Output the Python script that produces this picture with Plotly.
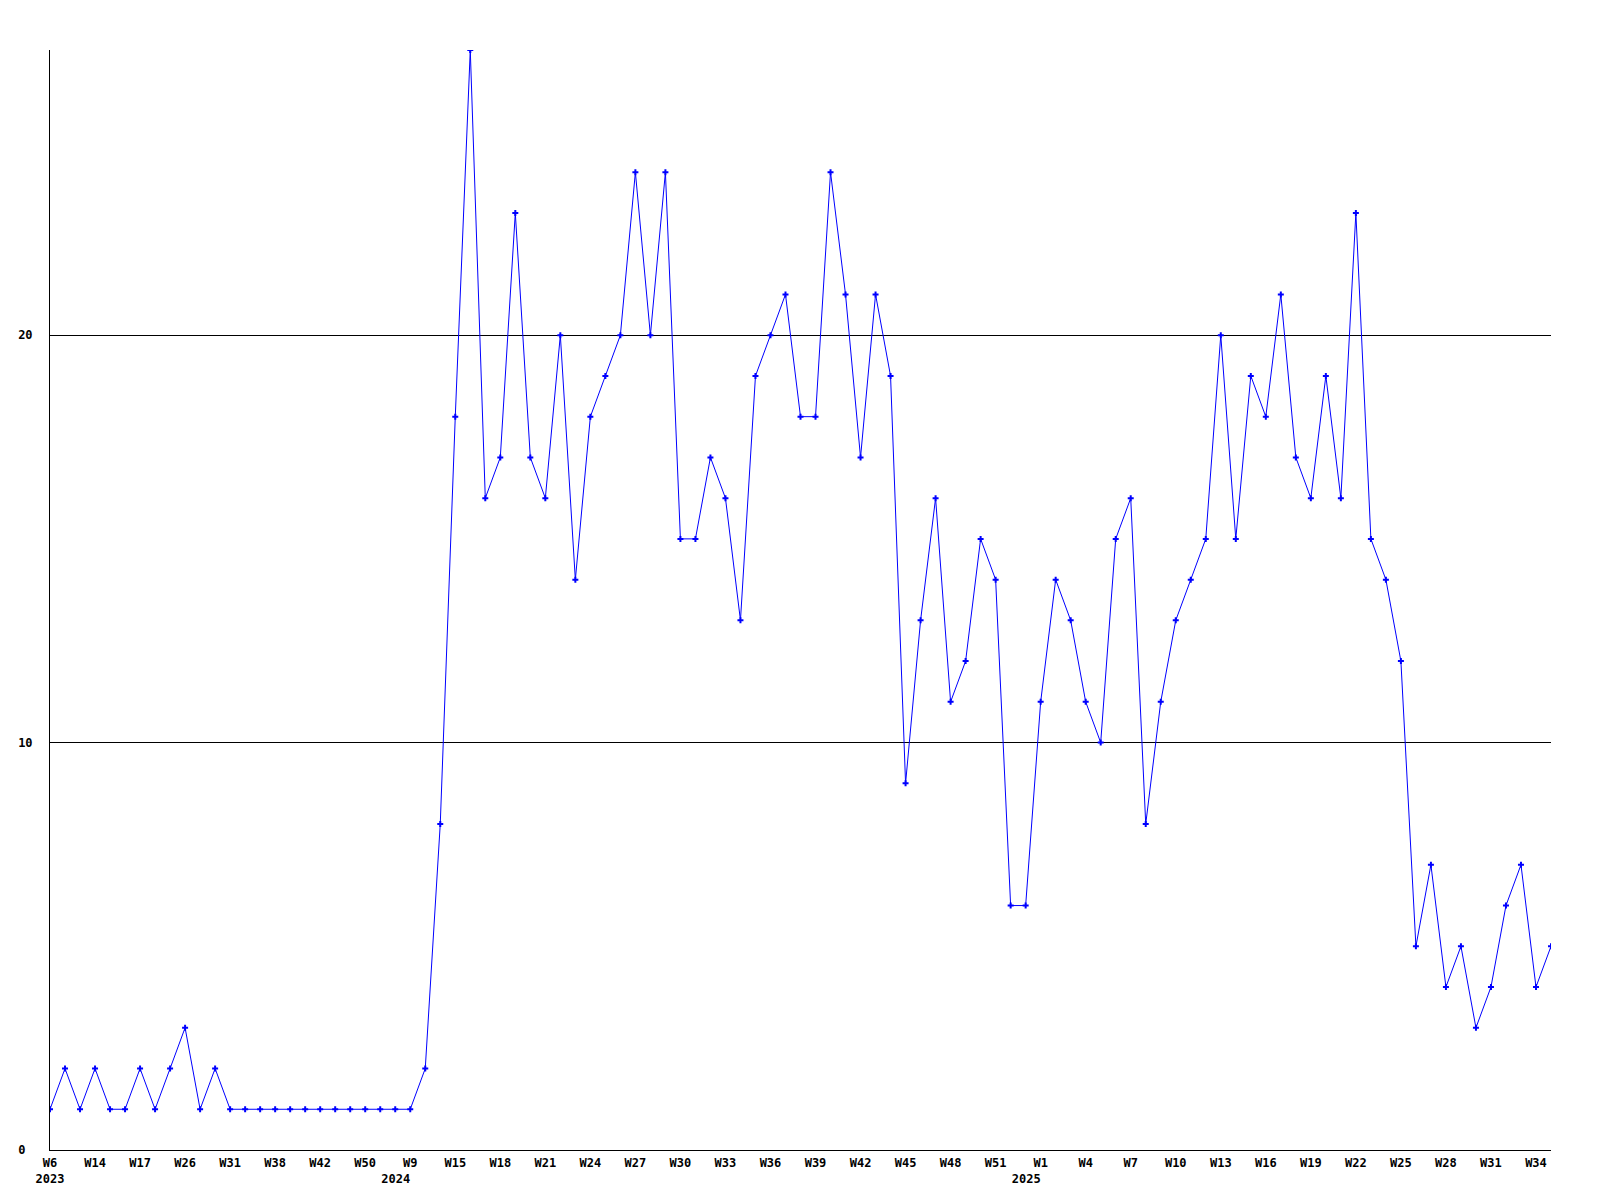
import plotly.graph_objects as go

# weekly counts, one per data point (evenly spaced)
values = [
    1, 2, 1, 2, 1, 1, 2, 1, 2, 3,
    1, 2, 1, 1, 1, 1, 1, 1, 1, 1,
    1, 1, 1, 1, 1, 2, 8, 18, 27, 16,
    17, 23, 17, 16, 20, 14, 18, 19, 20, 24,
    20, 24, 15, 15, 17, 16, 13, 19, 20, 21,
    18, 18, 24, 21, 17, 21, 19, 9, 13, 16,
    11, 12, 15, 14, 6, 6, 11, 14, 13, 11,
    10, 15, 16, 8, 11, 13, 14, 15, 20, 15,
    19, 18, 21, 17, 16, 19, 16, 23, 15, 14,
    12, 5, 7, 4, 5, 3, 4, 6, 7, 4,
    5,
]

NB = "\u00a0"
tick_labels = [
    "W6<br>2023", "W14", "W17", "W26", "W31", "W38", "W42", "W50",
    "W9<br>2024" + NB * 4, "W15", "W18", "W21", "W24", "W27", "W30", "W33",
    "W36", "W39", "W42", "W45", "W48", "W51", "W1<br>2025" + NB * 4, "W4",
    "W7", "W10", "W13", "W16", "W19", "W22", "W25", "W28", "W31", "W34",
]
tick_step = 3

y_ticks = [0, 10, 20]
y_labels = ["0" + NB, "10", "20"]

x = list(range(len(values)))
tickvals = [i * tick_step for i in range(len(tick_labels))]

font = dict(family="DejaVu Sans Mono", size=12, color="black", weight="bold")

fig = go.Figure(
    go.Scatter(
        x=x,
        y=values,
        mode="lines+markers",
        line=dict(color="#0000ff", width=1),
        marker=dict(symbol="cross", size=5, color="#0000ff", line=dict(width=0)),
        showlegend=False,
        hoverinfo="skip",
    )
)

fig.update_layout(
    width=1600,
    height=1200,
    margin=dict(l=42, r=57, t=42, b=58, autoexpand=False),
    paper_bgcolor="white",
    plot_bgcolor="white",
    font=font,
)

fig.update_xaxes(
    range=[0, len(values) - 1],
    tickvals=tickvals,
    ticktext=tick_labels,
    tickangle=0,
    showgrid=False,
    zeroline=False,
    showline=True,
    linecolor="black",
    linewidth=1,
    ticks="",
    ticklabelstandoff=2,
    tickfont=font,
    automargin=False,
)

fig.update_yaxes(
    range=[0, 27],
    tickvals=y_ticks,
    ticktext=y_labels,
    showgrid=True,
    gridcolor="black",
    gridwidth=1,
    zeroline=False,
    showline=True,
    linecolor="black",
    linewidth=1,
    ticks="",
    ticklabelstandoff=14,
    tickfont=font,
    automargin=False,
)

fig.write_html("out.html")
